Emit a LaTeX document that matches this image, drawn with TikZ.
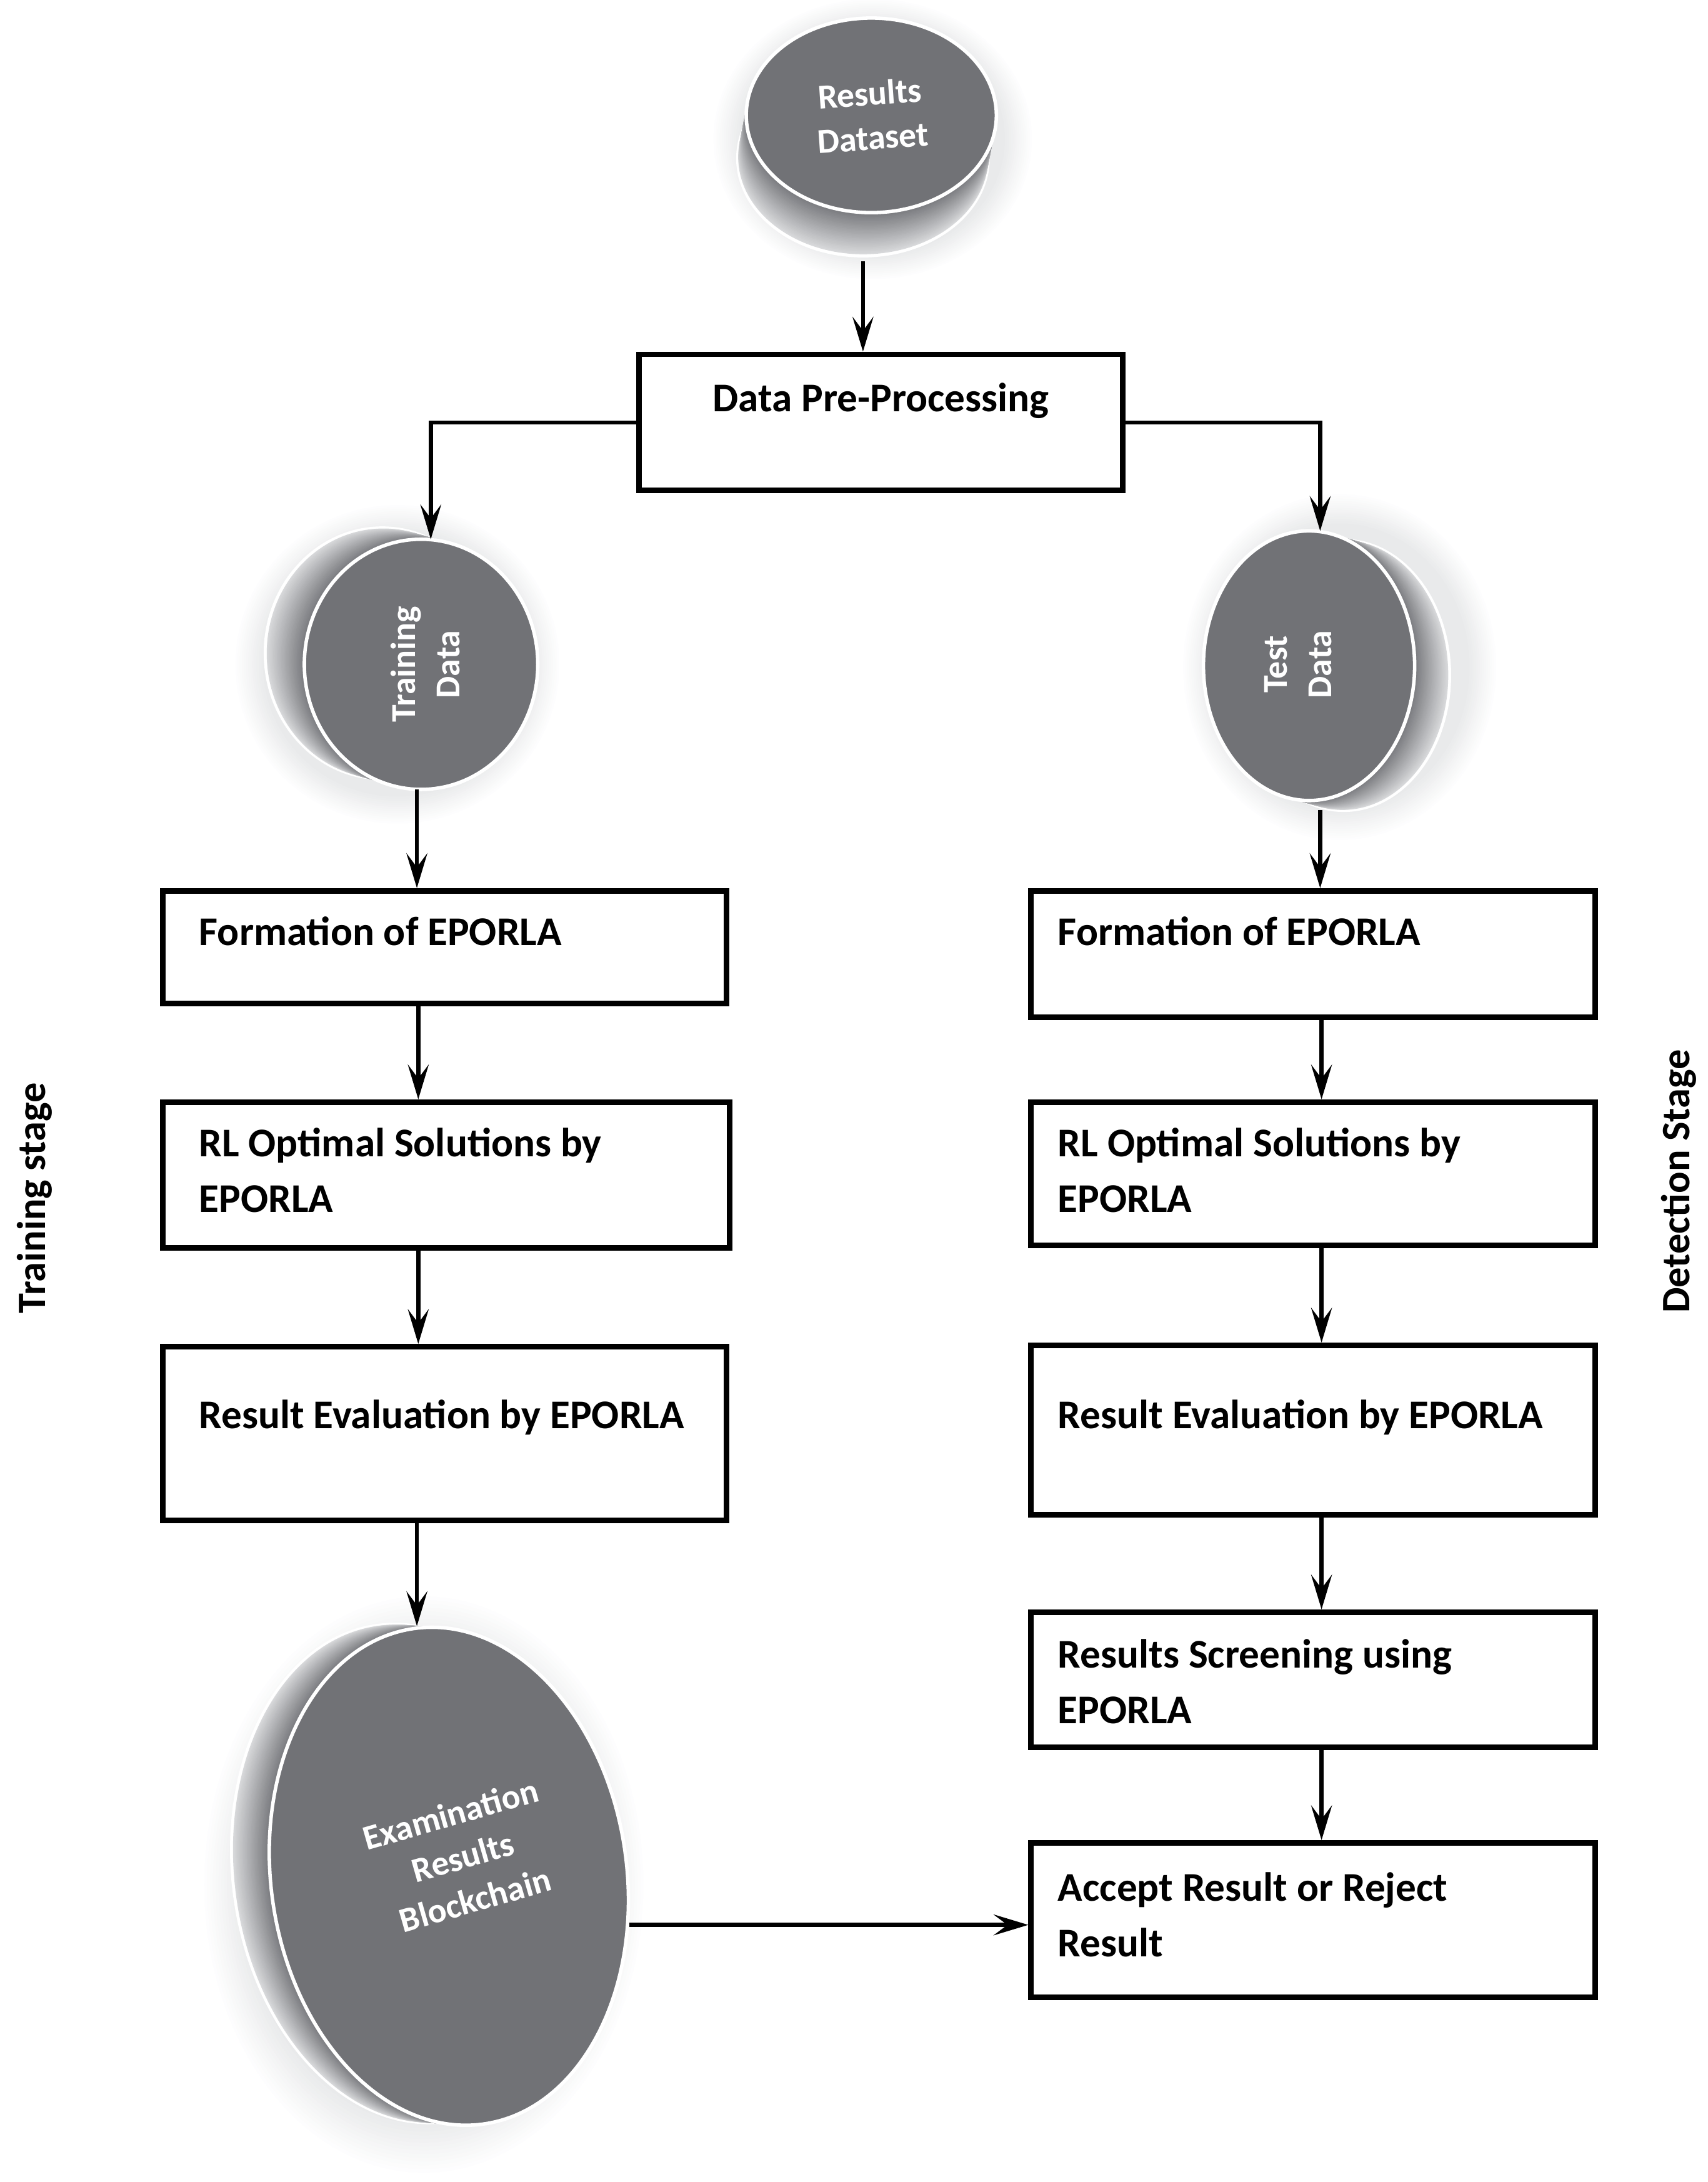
\documentclass[tikz,border=0pt]{standalone}
\usepackage{fontspec}
\setmainfont{Carlito}
\usetikzlibrary{arrows.meta}
\definecolor{diskface}{RGB}{113,114,118}
\definecolor{bandlight}{RGB}{218,219,221}
\definecolor{banddark}{RGB}{118,119,123}
\definecolor{glowc}{RGB}{233,234,235}
\newcommand\myglow[4]{%
  \foreach \k in {0,...,14}{%
    \pgfmathsetmacro\rxx{#3*(1-0.18*\k/14)}%
    \pgfmathsetmacro\ryy{#4*(1-0.18*\k/14)}%
    \pgfmathtruncatemacro\qq{100*\k/14}%
    \fill[glowc!\qq!white] (#1,#2) ellipse [x radius=\rxx, y radius=\ryy];
  }%
}
\newcommand\mydisk[7]{%
  \begin{scope}[shift={(#1,#2)}, rotate=#7]
    \filldraw[fill=bandlight, draw=white, line width=0.5mm] (0,0) ellipse [x radius=#5, y radius=#6];
  \end{scope}
  \foreach \i in {1,...,30}{%
    \pgfmathsetmacro\cxx{#1+(#3-#1)*\i/30}%
    \pgfmathsetmacro\cyy{#2+(#4-#2)*\i/30}%
    \pgfmathtruncatemacro\pp{100*\i/30}%
    \begin{scope}[shift={(\cxx,\cyy)}, rotate=#7]
      \fill[banddark!\pp!bandlight] (0,0) ellipse [x radius=#5, y radius=#6];
    \end{scope}
  }
  \begin{scope}[shift={(#3,#4)}, rotate=#7]
    \filldraw[fill=diskface, draw=white, line width=0.5mm] (0,0) ellipse [x radius=#5, y radius=#6];
  \end{scope}
}
\newcommand\twolines[2]{\vtop{\hbox{#1}\hbox{#2}}}
\tikzset{
  box/.style={draw=black, line width=0.8mm, fill=white, inner sep=0pt},
  boxtext/.style={font=\bfseries\fontsize{16.7}{22.8}\selectfont, anchor=base west, inner sep=0pt},
  disktext/.style={font=\bfseries\fontsize{14.3}{18.2}\selectfont, text=white, align=center, inner sep=0pt},
  sidetext/.style={font=\bfseries\fontsize{16.5}{20}\selectfont, rotate=90, inner sep=0pt},
  conn/.style={line width=0.6mm, -{Stealth[length=5mm,width=3mm,inset=2mm]}},
}
\newcommand\mkbox[5]{\node[box, minimum width={(#4-#2)*0.2mm}, minimum height={(#5-#3)*0.2mm}] (#1) at ({(#2+#4)/2},{(#3+#5)/2}) {};}
\begin{document}
\begin{tikzpicture}[x=0.2mm, y=-0.2mm]
\useasboundingbox (0,0) rectangle (1229,1570);
\fill[white] (0,0) rectangle (1229,1570);

% ---- disks ----
\myglow{628}{100}{116}{102}
\mydisk{621}{114}{627}{83}{90}{70}{0}
\myglow{286}{478}{118}{116}
\mydisk{275}{470}{303}{478}{84}{90}{0}
\myglow{964}{480}{114}{126}
\mydisk{967}{486}{942}{479}{76}{97}{0}
\myglow{305}{1356}{160}{210}
\mydisk{296}{1348}{323}{1350}{128}{180}{8}

\node[disktext, rotate=4] (ds) at (627,83) {Results\\Dataset};
\node[disktext, rotate=90] (train) at (306,478) {Training\\Data};
\node[disktext, rotate=90] (test) at (934,478) {Test\\Data};
\node[disktext, rotate=16] (chain) at (333,1336) {Examination\\Results\\Blockchain};

\coordinate (ds-bot) at (621,188);
\coordinate (train-top) at (310,388);
\coordinate (train-bot) at (300,568);
\coordinate (test-top) at (950,382);
\coordinate (test-bot) at (950,583);
\coordinate (chain-top) at (300,1170);
\coordinate (chain-right) at (453,1385);
\coordinate (lcol) at (301,0);
\coordinate (rcol) at (951,0);

% ---- boxes ----
\mkbox{dpp}{460}{255}{808}{353}
\mkbox{lf}{117}{641}{523}{722}
\mkbox{lrl}{117}{793}{525}{898}
\mkbox{lre}{117}{969}{523}{1094}
\mkbox{rf}{742}{641}{1148}{732}
\mkbox{rrl}{742}{793}{1148}{896}
\mkbox{rre}{742}{968}{1148}{1090}
\mkbox{scr}{742}{1160}{1148}{1257}
\mkbox{acc}{742}{1326}{1148}{1437}

\node[boxtext, anchor=base] (dpp-t) at (634,296) {Data Pre-Processing};
\node[boxtext] (lf-t) at (143,680) {Formation of EPORLA};
\node[boxtext] (lrl-t) at (143,832) {\twolines{RL Optimal Solutions by}{EPORLA}};
\node[boxtext] (lre-t) at (143,1028) {Result Evaluation by EPORLA};
\node[boxtext] (rf-t) at (761,680) {Formation of EPORLA};
\node[boxtext] (rrl-t) at (761,832) {\twolines{RL Optimal Solutions by}{EPORLA}};
\node[boxtext] (rre-t) at (761,1028) {Result Evaluation by EPORLA};
\node[boxtext] (scr-t) at (761,1200) {\twolines{Results Screening using}{EPORLA}};
\node[boxtext] (acc-t) at (761,1368) {\twolines{Accept Result or Reject}{Result}};

\node[sidetext] (tstage) at (25,862) {Training stage};
\node[sidetext] (dstage) at (1208,850) {Detection Stage};

% ---- connectors ----
\draw[conn] (ds-bot) -- (ds-bot |- dpp.north);
\draw[conn] (dpp.west) -| (train-top);
\draw[conn] (dpp.east) -| (test-top);
\draw[conn] (train-bot) -- (train-bot |- lf.north);
\draw[conn] (lf.south -| lcol) -- (lrl.north -| lcol);
\draw[conn] (lrl.south -| lcol) -- (lre.north -| lcol);
\draw[conn] (lre.south -| chain-top) -- (chain-top);
\draw[conn] (test-bot) -- (test-bot |- rf.north);
\draw[conn] (rf.south -| rcol) -- (rrl.north -| rcol);
\draw[conn] (rrl.south -| rcol) -- (rre.north -| rcol);
\draw[conn] (rre.south -| rcol) -- (scr.north -| rcol);
\draw[conn] (scr.south -| rcol) -- (acc.north -| rcol);
\draw[conn] (chain-right) -- (chain-right -| acc.west);
\end{tikzpicture}
\end{document}
